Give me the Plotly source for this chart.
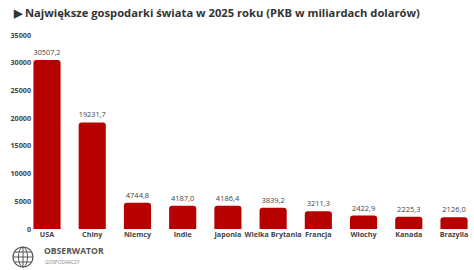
import plotly.graph_objects as go
import numpy as np

countries = ["USA", "Chiny", "Niemcy", "Indie", "Japonia", "Wielka Brytania",
             "Francja", "Włochy", "Kanada", "Brazylia"]
gdp = [30507.2, 19231.7, 4744.8, 4187.0, 4186.4, 3839.2, 3211.3, 2422.9, 2225.3, 2126.0]
labels = [f"{v:.1f}".replace(".", ",") for v in gdp]
yticks = [0, 5000, 10000, 15000, 20000, 25000, 30000, 35000]

BAR = "#b70000"
FONT = "Open Sans"
L = 32
PW = 474 - L

fig = go.Figure(go.Bar(
    x=list(range(len(countries))), y=gdp,
    marker=dict(color=BAR, line=dict(width=0), cornerradius=3),
    width=0.6,
    text=labels, textposition="outside", cliponaxis=False,
    textfont=dict(family=FONT, size=7.5, color="#444"),
))

fig.update_layout(
    width=474, height=270,
    margin=dict(l=L, r=0, t=35, b=41),
    paper_bgcolor="white", plot_bgcolor="white",
    showlegend=False,
    bargap=0.4,
    xaxis=dict(
        tickmode="array", tickvals=list(range(len(countries))),
        ticktext=[f"<b>{c}</b>" for c in countries],
        range=[-0.332, 9.442], showgrid=False, zeroline=False, showline=False,
        tickfont=dict(family=FONT, size=7.2, color="#444"), ticks="", ticklen=2,
        tickangle=0,
    ),
    yaxis=dict(
        range=[0, 35000], tickmode="array", tickvals=yticks,
        ticktext=[f"<b>{t}</b>" for t in yticks],
        showgrid=False, zeroline=False, showline=False,
        tickfont=dict(family=FONT, size=7.2, color="#444"), ticks="",
    ),
    font=dict(family=FONT),
)

def px(xp, yp):
    return ((xp - L) / PW, (229 - yp) / 194)

tx, ty = px(0, 13)
fig.add_annotation(
    text="<b>▶ Największe gospodarki świata w 2025 roku (PKB w miliardach dolarów)</b>",
    xref="paper", yref="paper", x=tx, y=ty, xanchor="left", yanchor="middle",
    xshift=11, showarrow=False, font=dict(family=FONT, size=11.2, color="#333"),
)

# logo text
lx, ly = px(42, 251)
fig.add_annotation(text="<b>OBSERWATOR</b>", xref="paper", yref="paper",
                   x=lx, y=ly, xanchor="left", yanchor="middle",
                   showarrow=False, font=dict(family=FONT, size=8.6, color="#555"))
lx, ly = px(43, 262)
fig.add_annotation(text="GOSPODARCZY", xref="paper", yref="paper",
                   x=lx, y=ly, xanchor="left", yanchor="middle",
                   showarrow=False, font=dict(family=FONT, size=4.8, color="#888"))

# globe icon
cx, cy, r = 23, 257, 10
x0, y0 = px(cx - r, cy + r)
x1, y1 = px(cx + r, cy - r)
fig.add_shape(type="circle", xref="paper", yref="paper", x0=x0, y0=y0, x1=x1, y1=y1,
              line=dict(color="#555", width=1.2))
ex0, _ = px(cx - 4.5, cy)
ex1, _ = px(cx + 4.5, cy)
fig.add_shape(type="circle", xref="paper", yref="paper", x0=ex0, y0=y0, x1=ex1, y1=y1,
              line=dict(color="#555", width=1))
for dy in (-5, 0, 5):
    w = np.sqrt(max(r * r - dy * dy, 0))
    a0, b0 = px(cx - w, cy + dy)
    a1, b1 = px(cx + w, cy + dy)
    fig.add_shape(type="line", xref="paper", yref="paper", x0=a0, y0=b0, x1=a1, y1=b1,
                  line=dict(color="#555", width=1))
a0, b0 = px(cx, cy - r)
a1, b1 = px(cx, cy + r)
fig.add_shape(type="line", xref="paper", yref="paper", x0=a0, y0=b0, x1=a1, y1=b1,
              line=dict(color="#555", width=1))

fig.write_html("out.html")
